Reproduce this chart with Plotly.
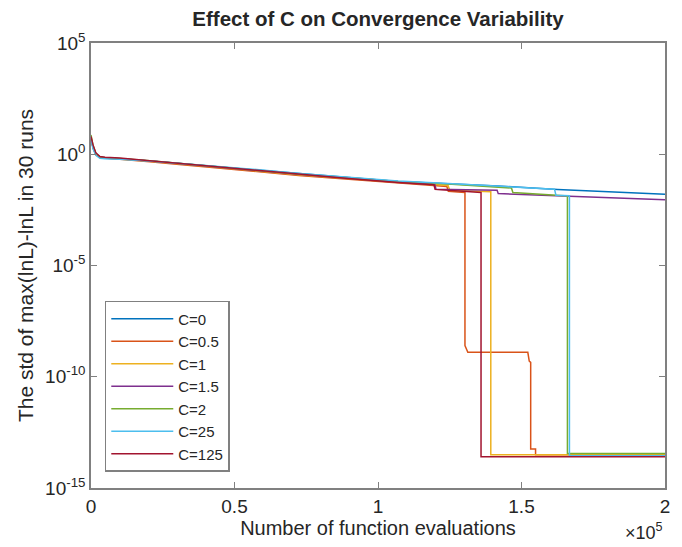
import plotly.graph_objects as go

# ---- data ----
series_names = ["C=0", "C=0.5", "C=1", "C=1.5", "C=2", "C=25", "C=125"]
series_colors = ["#0072BD", "#D95319", "#EDB120", "#7E2F8E", "#77AC30", "#4DBEEE", "#A2142F"]

early_x = [0, 700, 1700, 3100, 4900, 10000, 20500, 30800, 43000, 55100, 72400, 89800, 107000]

x_c0 = early_x + [124400, 141800, 162600, 183400, 200000]
y_c0 = [5.01, 2.0, 1.0, 0.708, 0.661, 0.631, 0.501, 0.398, 0.282, 0.209, 0.132, 0.0891, 0.0603,
        0.0479, 0.0372, 0.0263, 0.020, 0.0158]

x_c05 = early_x + [124000, 124500, 130300, 130300, 131300, 152200, 152700, 153200, 153200, 154900, 154900, 200000]
y_c05 = [5.62, 1.91, 0.933, 0.724, 0.676, 0.603, 0.457, 0.347, 0.245, 0.170, 0.112, 0.0759, 0.0501,
         0.0355, 0.0219, 0.0191, 2.5e-9, 1.26e-9, 1.26e-9, 5.0e-10, 4.47e-10, 5.62e-14, 5.62e-14, 3.16e-14, 3.16e-14]

x_c1 = early_x + [124400, 125000, 139300, 139300, 200000]
y_c1 = [5.25, 2.09, 1.0, 0.741, 0.676, 0.617, 0.479, 0.372, 0.263, 0.191, 0.120, 0.0813, 0.0550,
        0.0398, 0.0240, 0.0209, 3.16e-14, 3.16e-14]

x_c15 = early_x + [119800, 120200, 141500, 141900, 170000, 200000]
y_c15 = [5.01, 2.24, 1.05, 0.759, 0.692, 0.631, 0.501, 0.380, 0.269, 0.195, 0.126, 0.0832, 0.0562,
         0.0437, 0.0269, 0.0240, 0.0170, 0.0126, 0.00912]

x_c2 = early_x + [124400, 146500, 147000, 162600, 166000, 166000, 200000]
y_c2 = [7.41, 2.51, 1.07, 0.759, 0.692, 0.646, 0.513, 0.398, 0.282, 0.204, 0.129, 0.0871, 0.0589,
        0.0457, 0.0302, 0.0191, 0.0145, 0.0132, 3.55e-14, 3.55e-14]

x_c25 = early_x + [124400, 141800, 161500, 162000, 166700, 166700, 200000]
y_c25 = [4.79, 1.78, 0.891, 0.661, 0.631, 0.603, 0.501, 0.398, 0.288, 0.219, 0.138, 0.0933, 0.0631,
         0.0490, 0.0380, 0.0269, 0.0145, 0.0138, 2.82e-14, 2.82e-14]

x_c125 = early_x + [119500, 119900, 135900, 135900, 200000]
y_c125 = [6.31, 2.63, 1.15, 0.794, 0.741, 0.676, 0.513, 0.389, 0.269, 0.195, 0.123, 0.0813, 0.0537,
          0.0427, 0.0263, 0.0191, 2.51e-14, 2.51e-14]

x_tick_vals = [0, 50000, 100000, 150000, 200000]
x_tick_text = ["0", "0.5", "1", "1.5", "2"]
y_tick_vals = [1e-15, 1e-10, 1e-5, 1e0, 1e5]
y_tick_text = ["10<sup>-15</sup>", "10<sup>-10</sup>", "10<sup>-5</sup>", "10<sup>0</sup>", "10<sup>5</sup>"]

xs = [x_c0, x_c05, x_c1, x_c15, x_c2, x_c25, x_c125]
ys = [y_c0, y_c05, y_c1, y_c15, y_c2, y_c25, y_c125]

FONT = "Liberation Sans, Arial, Helvetica, sans-serif"
AX = "#808080"

fig = go.Figure()
for name, col, xv, yv in zip(series_names, series_colors, xs, ys):
    fig.add_trace(go.Scatter(x=xv, y=yv, mode="lines", name=name,
                             line=dict(color=col, width=1.5)))

fig.update_layout(
    width=682, height=547,
    margin=dict(l=91, r=14, t=43, b=58),
    paper_bgcolor="white", plot_bgcolor="white",
    font=dict(family=FONT, color="#262626", size=18),
    title=dict(text="<b>Effect of C on Convergence Variability</b>",
               x=0.5, xref="paper", xanchor="center",
               y=1 - 19 / 547, yref="container", yanchor="middle",
               font=dict(size=20.5, family=FONT, color="#262626")),
    showlegend=True,
    legend=dict(x=0.024, y=0.036, xanchor="left", yanchor="bottom",
                bgcolor="white", bordercolor=AX, borderwidth=1.5,
                font=dict(size=15, family=FONT, color="#262626"),
                itemwidth=62, entrywidth=80, entrywidthmode="pixels",
                tracegroupgap=0),
)

fig.update_xaxes(range=[0, 200000], tickvals=x_tick_vals, ticktext=x_tick_text,
                 showline=True, linecolor=AX, linewidth=1.5, mirror="ticks",
                 ticks="inside", ticklen=6, tickcolor=AX, tickwidth=1,
                 showgrid=False, zeroline=False,
                 tickfont=dict(size=19),
                 title=dict(text="Number of function evaluations", font=dict(size=20), standoff=4))

fig.update_yaxes(type="log", range=[-15, 5], tickvals=y_tick_vals, ticktext=y_tick_text,
                 showline=True, linecolor=AX, linewidth=1.5, mirror="ticks",
                 ticks="inside", ticklen=6, tickcolor=AX, tickwidth=1,
                 showgrid=False, zeroline=False,
                 tickfont=dict(size=19),
                 title=dict(text="The std of max(lnL)-lnL in 30 runs", font=dict(size=21), standoff=6))

fig.add_annotation(text="×10<sup>5</sup>", xref="paper", yref="paper",
                   x=1.0, y=-(533 - 489) / 446, xanchor="right", yanchor="middle",
                   showarrow=False, font=dict(size=18, family=FONT, color="#262626"))

fig.write_html("out.html")
